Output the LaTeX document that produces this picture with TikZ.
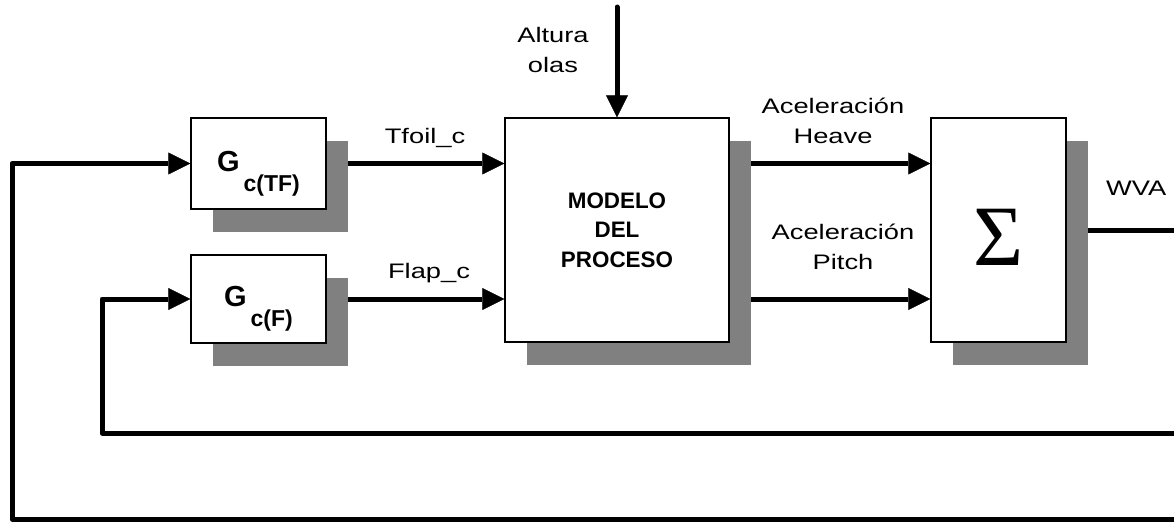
\documentclass[tikz,border=0pt]{standalone}
\usepackage{fontspec}
\setmainfont{Liberation Sans}
\newfontfamily\serifsym{Liberation Serif}
\usetikzlibrary{arrows.meta,shadows,backgrounds}
\definecolor{shadowgray}{HTML}{808080}
% signal labels are set wide, line by line
\newcommand\widelabel[1]{\scalebox{1.3}[1]{\begin{tabular}[t]{@{}c@{}}#1\end{tabular}}}
% controller block symbol G with a lowered subscript
\newcommand\gsym[1]{{\fontsize{29}{30}\selectfont\bfseries G\hspace{4pt}\raisebox{-20pt}{\fontsize{23}{24}\selectfont c(#1)}}}

\begin{document}
\begin{tikzpicture}[x=1pt,y=-1pt,
  blk/.style={draw, line width=1.3pt, fill=white, inner sep=0pt,
    drop shadow={shadow xshift=22pt, shadow yshift=-23pt, fill=shadowgray, opacity=1}},
  sig/.style={line width=5pt, line join=round},
  tip/.style={-{Triangle[length=22pt,width=22pt,line width=0.5pt]}},
  lbl/.style={font=\fontsize{21}{30}\selectfont, inner sep=0pt, anchor=base},
]
\useasboundingbox (0,0) rectangle (1174,525);

% blocks
\node[blk, minimum width=135pt, minimum height=91pt, text height=15pt, text depth=0pt]
  (gtf) at (258.5,163.5) {\gsym{TF}};
\node[blk, minimum width=135pt, minimum height=88pt, text height=14pt, text depth=0pt]
  (gf) at (258.5,299) {\gsym{F}};
\node[blk, minimum width=224pt, minimum height=224pt, align=center,
  font=\fontsize{22.4}{29.5}\selectfont\bfseries]
  (mod) at (617,230) {MODELO\\DEL\\PROCESO};
\node[blk, minimum width=135pt, minimum height=224pt, text height=70pt, text depth=0pt,
  font=\serifsym\fontsize{86}{90}\selectfont]
  (sum) at (998.5,230) {Σ};

% signal labels
\node[lbl] (alt) at (553,42) {\widelabel{Altura\\olas}};
\node[lbl] (tfl) at (425,143) {\widelabel{Tfoil\_c}};
\node[lbl] (fll) at (429,278) {\widelabel{Flap\_c}};
\node[lbl] (hvl) at (833,113) {\widelabel{Aceleración\\Heave}};
\node[lbl] (ptl) at (843,239) {\widelabel{Aceleración\\Pitch}};
\node[lbl, anchor=base west] (wva) at (1106,195) {\widelabel{WVA}};

% free ends of the signal lines
\coordinate (wave) at (617,7);
\coordinate (wvaend) at (1174,230);
\coordinate (fbin) at (1174,433);
\coordinate (fbout) at (1174,519);

\begin{scope}[on background layer]
  \draw[sig,tip,line cap=round] (wave) -- (mod.north);
  \draw[sig,tip] (gtf.east) -- (mod.west |- gtf.east);
  \draw[sig,tip] (gf.east) -- (mod.west |- gf.east);
  \draw[sig,tip] (mod.east |- gtf.east) -- (sum.west |- gtf.east);
  \draw[sig,tip] (mod.east |- gf.east) -- (sum.west |- gf.east);
  \draw[sig] (sum.east) -- (wvaend);
  \draw[sig,tip] (fbin) -- (102,433) |- (gf.west);
  \draw[sig,tip] (fbout) -- (12,519) |- (gtf.west);
\end{scope}
\end{tikzpicture}
\end{document}
